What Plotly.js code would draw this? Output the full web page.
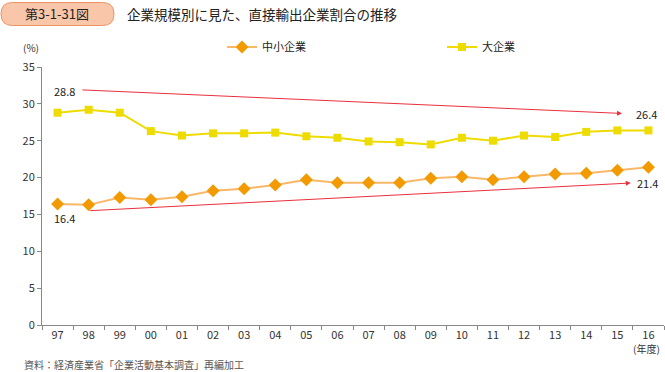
<!DOCTYPE html>
<html><head><meta charset="utf-8">
<script src="https://cdn.plot.ly/plotly-3.0.1.min.js"></script>
<style>html,body{margin:0;padding:0;background:#fff}#chart{width:665px;height:372px}</style>
</head><body><div id="chart"></div>
<script>
const years = ['97','98','99','00','01','02','03','04','05','06','07','08','09','10','11','12','13','14','15','16'];
const smeValues = [16.4,16.3,17.3,17.0,17.4,18.2,18.5,19.0,19.7,19.3,19.3,19.3,19.9,20.1,19.7,20.1,20.5,20.6,21.0,21.4];
const largeValues = [28.8,29.2,28.8,26.3,25.7,26.0,26.0,26.1,25.6,25.4,24.9,24.8,24.5,25.4,25.0,25.7,25.5,26.2,26.4,26.4];
const seriesNames = ['中小企業','大企業'];
const titleText = '企業規模別に見た、直接輸出企業割合の推移';
const figLabel = '第3-1-31図';
const sourceText = '資料：経済産業省「企業活動基本調査」再編加工';
// trend arrows: [x0, y0, x1, y1] in axis units (category index, %)
const largeTrend = [0.75, 31.9, 18.15, 28.7];
const smeTrend = [1.0, 15.5, 18.43, 19.26];

const FONT = '"Noto Sans CJK JP", "Noto Sans", sans-serif';
const L = 42, T = 67, W = 622, H = 258;
const px = x => (x - L) / W;
const py = y => 1 + (T - y) / H;

function roundRect(x0, y0, x1, y1, r) {
  const X0 = px(x0), X1 = px(x1), Y0 = py(y0), Y1 = py(y1);
  const rx = r / W, ry = r / H;
  return `M ${X0+rx} ${Y0} L ${X1-rx} ${Y0} Q ${X1} ${Y0} ${X1} ${Y0-ry} L ${X1} ${Y1+ry} Q ${X1} ${Y1} ${X1-rx} ${Y1} L ${X0+rx} ${Y1} Q ${X0} ${Y1} ${X0} ${Y1+ry} L ${X0} ${Y0-ry} Q ${X0} ${Y0} ${X0+rx} ${Y0} Z`;
}

const traces = [
  {x: years, y: smeValues, name: seriesNames[0], type: 'scatter', mode: 'lines+markers', legend: 'legend',
   line: {color: '#f8b868', width: 2}, marker: {symbol: 'diamond', size: 10, color: '#f29a00'}},
  {x: years, y: largeValues, name: seriesNames[1], type: 'scatter', mode: 'lines+markers', legend: 'legend2',
   line: {color: '#eedc00', width: 2}, marker: {symbol: 'square', size: 8, color: '#eedc00'}}
];

const last = years.length - 1;
function note(x, y, text, size, color, xanchor) {
  return {x: px(x), y: py(y), xref: 'paper', yref: 'paper', xanchor: xanchor || 'center', yanchor: 'middle',
          text: text, showarrow: false, font: {size: size, color: color, family: FONT}};
}
function dataNote(x, y, text, xanchor) {
  return {x: x, y: y, xref: 'x', yref: 'y', xanchor: xanchor || 'center', yanchor: 'middle', text: text, showarrow: false,
          font: {size: 11, color: '#222', family: FONT}};
}
const annotations = [
  {x: largeTrend[2], y: largeTrend[3], ax: largeTrend[0], ay: largeTrend[1], axref: 'x', ayref: 'y', xref: 'x', yref: 'y',
   showarrow: true, arrowhead: 2, arrowsize: 1, arrowwidth: 1, arrowcolor: '#e8303e', text: ''},
  {x: smeTrend[2], y: smeTrend[3], ax: smeTrend[0], ay: smeTrend[1], axref: 'x', ayref: 'y', xref: 'x', yref: 'y',
   showarrow: true, arrowhead: 2, arrowsize: 1, arrowwidth: 1, arrowcolor: '#e8303e', text: ''},
  dataNote(0.23, 31.7, largeValues[0].toFixed(1)),
  dataNote(19.34, 28.65, largeValues[last].toFixed(1), 'right'),
  dataNote(0.23, 14.5, smeValues[0].toFixed(1)),
  dataNote(19.37, 19.2, smeValues[last].toFixed(1), 'right'),
  note(31, 47, '(%)', 10, '#333'),
  note(646, 348, '(年度)', 10, '#333'),
  note(22, 364, sourceText, 10, '#555', 'left'),
  note(57, 13.5, figLabel, 13, '#222'),
  note(125, 13.5, titleText, 13.5, '#222', 'left')
];

const legendBase = {orientation: 'h', xanchor: 'left', yanchor: 'middle', y: py(47),
                    font: {size: 11, color: '#222', family: FONT}, bgcolor: 'rgba(0,0,0,0)'};

const layout = {
  width: 665, height: 372,
  margin: {l: L, r: 665 - L - W, t: T, b: 372 - T - H},
  paper_bgcolor: '#fff', plot_bgcolor: '#fff',
  font: {family: FONT, size: 11, color: '#333'},
  showlegend: true,
  legend: Object.assign({}, legendBase, {x: px(222)}),
  legend2: Object.assign({}, legendBase, {x: px(442)}),
  xaxis: {type: 'category', range: [-0.5, 19.5], showline: true, linecolor: '#888', linewidth: 1,
          ticks: 'outside', tickson: 'boundaries', ticklen: 4, tickcolor: '#888', showgrid: false, zeroline: false,
          tickfont: {size: 11, color: '#333'}},
  yaxis: {range: [0, 35], dtick: 5, showline: true, linecolor: '#888', linewidth: 1, ticks: 'outside', ticklen: 4,
          tickcolor: '#888', showgrid: false, zeroline: false, tickfont: {size: 11, color: '#333'}},
  shapes: [{type: 'path', xref: 'paper', yref: 'paper', path: roundRect(1, 2.5, 114, 25.5, 11.5),
            fillcolor: '#f9c6aa', line: {color: '#ee9464', width: 1}}],
  annotations: annotations
};

Plotly.newPlot('chart', traces, layout, {displayModeBar: false, staticPlot: true});
</script></body></html>
